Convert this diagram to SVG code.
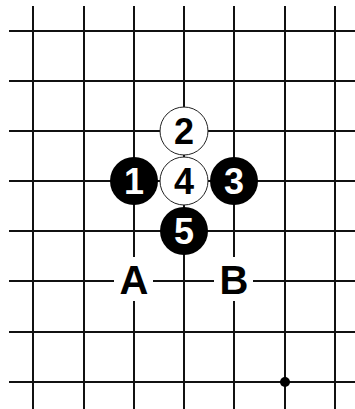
<svg xmlns="http://www.w3.org/2000/svg" width="355" height="409" viewBox="0 0 355 409">
<style>
.g{stroke:#111;stroke-width:2;fill:none}
.w{fill:#fff;stroke:#222;stroke-width:1}
.b{fill:#000}
.n{font-family:"Liberation Sans",Arial,sans-serif;font-size:36px;font-weight:bold;text-anchor:middle}
.l{font-family:"Liberation Sans",Arial,sans-serif;font-size:40px;font-weight:bold;text-anchor:middle}
</style>
<rect width="355" height="409" fill="#fff"/>
<g id="grid" class="g">
<path d="M33 6V409M84 6V409M134 6V409M184 6V409M234 6V409M285 6V409M335 6V409"/>
<path d="M9 31H355M9 81H355M9 131H355M9 181H355M9 231H355M9 281H355M9 332H355M9 382H355"/>
</g>
<g id="hoshi"><circle cx="285" cy="382" r="5" class="b"/></g>
<g id="stone2"><circle cx="184" cy="131" r="24" class="w"/><text x="184" y="144" class="n">2</text></g>
<g id="stone1"><circle cx="134" cy="181" r="24" class="b"/><text x="134" y="194" class="n" fill="#fff">1</text></g>
<g id="stone4"><circle cx="184" cy="181" r="24" class="w"/><text x="184" y="194" class="n">4</text></g>
<g id="stone3"><circle cx="234" cy="181" r="24" class="b"/><text x="234" y="194" class="n" fill="#fff">3</text></g>
<g id="stone5"><circle cx="184" cy="231" r="24" class="b"/><text x="184" y="244" class="n" fill="#fff">5</text></g>
<g id="labelA"><rect x="114" y="257" width="39" height="44" fill="#fff"/><text x="134" y="294" class="l">A</text></g>
<g id="labelB"><rect x="214" y="257" width="39" height="44" fill="#fff"/><text x="234" y="294" class="l">B</text></g>
</svg>
